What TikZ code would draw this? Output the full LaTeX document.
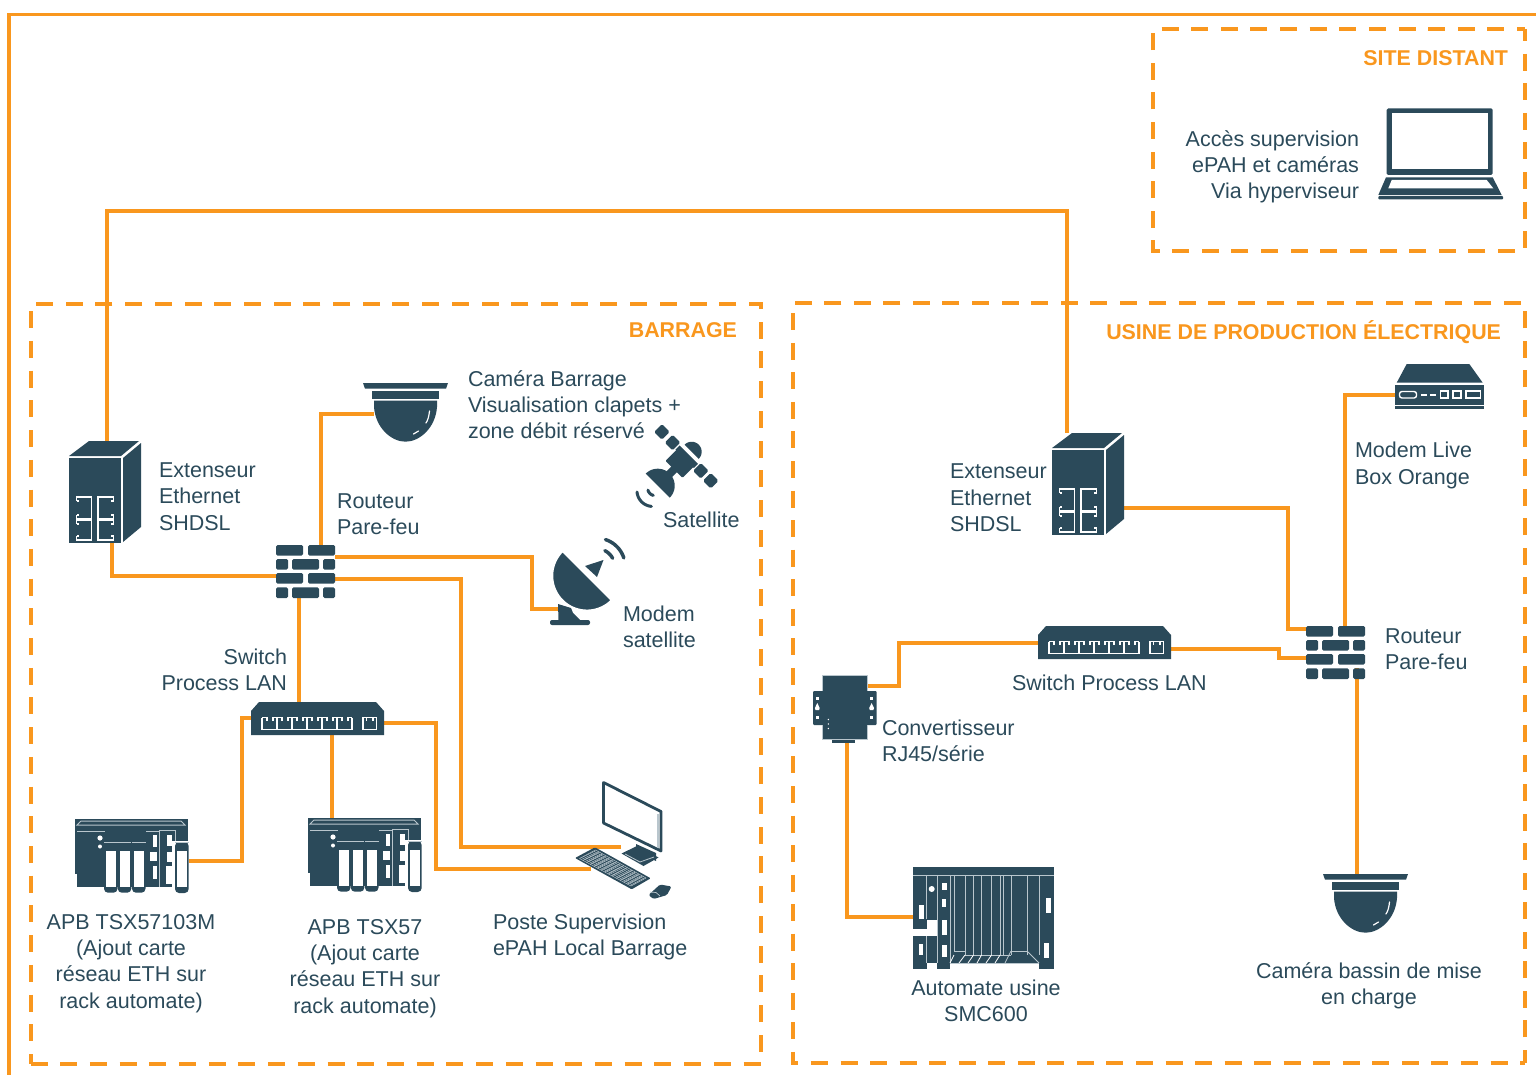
\documentclass[tikz,border=0pt]{standalone}
\usepackage{fontspec}
\setmainfont{Liberation Sans}
\usetikzlibrary{calc}
\definecolor{ink}{HTML}{2B4A5A}
\definecolor{wireo}{HTML}{F9971E}
\definecolor{pale}{HTML}{B9C6CD}
\tikzset{
  wire/.style={draw=wireo,line width=4pt,line join=miter},
  zone/.style={draw=wireo,line width=4pt,dash pattern=on 17pt off #1},
  frameline/.style={draw=wireo,line width=3.8pt},
  hit/.style={inner sep=0pt,outer sep=0pt,minimum width=#1},
  lbl/.style={text=ink,inner sep=0pt,outer sep=0pt,font=\fontsize{21.5}{26.3}\selectfont},
  ttl/.style={text=wireo,inner sep=0pt,outer sep=0pt,font=\fontsize{21.4}{26}\selectfont\bfseries,anchor=east},
  wl/.style={draw=white,line width=#1},
  wl/.default=1.2pt,
  pl/.style={draw=pale,line width=#1},
  pl/.default=1pt,
}
% brick wall, origin top-left
\newcommand\wallicon[2]{\begin{scope}[shift={(#1,#2)}]
  \foreach \y in {0,28}{
    \fill[ink,rounded corners=1.5pt] (0,\y) rectangle (27,\y+10.7);
    \fill[ink,rounded corners=1.5pt] (32,\y) rectangle (59,\y+10.7);
  }
  \foreach \y in {14,42.3}{
    \fill[ink,rounded corners=1.5pt] (0,\y) rectangle (12,\y+10.7);
    \fill[ink,rounded corners=1.5pt] (16,\y) rectangle (43,\y+10.7);
    \fill[ink,rounded corners=1.5pt] (47,\y) rectangle (59,\y+10.7);
  }
\end{scope}}
% extender, origin = top-left of the bounding box
\newcommand\exticon[2]{\begin{scope}[shift={(#1,#2)}]
  \fill[ink] (0,15) -- (20,0) -- (70,0) -- (52,15) -- cycle;
  \fill[ink] (0,17) rectangle (51.5,102);
  \fill[ink] (54,17) -- (72,2) -- (72,86) -- (54,101) -- cycle;
  \foreach \s/\t in {56/78,79/99}{
    \draw[wl=1.2pt] (7.5,\s+4) -- (7.5,\s) -- (22.5,\s) -- (22.5,\t) -- (7.5,\t) -- (7.5,\t-4);
    \draw[wl=1.2pt] (44.5,\s+4) -- (44.5,\s) -- (29,\s) -- (29,\t) -- (44.5,\t) -- (44.5,\t-4);
    \fill[white] (7.5,\s+3) rectangle (10,\s+5);
    \fill[white] (7.5,\t-5) rectangle (10,\t-3);
    \fill[white] (42,\s+3) rectangle (44.5,\s+5);
    \fill[white] (42,\t-5) rectangle (44.5,\t-3);
  }
\end{scope}}
% dome camera, origin = centre of the top edge
\newcommand\camicon[2]{\begin{scope}[shift={(#1,#2)}]
  \fill[ink] (-42.5,0) -- (42.5,0) -- (40.5,5.7) -- (-40.5,5.7) -- cycle;
  \fill[ink] (-33.5,8) rectangle (33.5,15.7);
  \fill[ink] (-31.5,17.7) -- (31.5,17.7) -- (31.5,24)
     .. controls (30,45) and (14,58.7) .. (0,58.7)
     .. controls (-14,58.7) and (-30,45) .. (-31.5,24) -- cycle;
  \draw[wl=1.2pt,line cap=round] (24,28) .. controls (23.5,33) and (22.5,37) .. (20.5,40);
  \draw[wl=1.2pt,line cap=round] (13,48) -- (8,51);
\end{scope}}
% switch, origin top-left
\newcommand\swicon[2]{\begin{scope}[shift={(#1,#2)}]
  \fill[ink] (8,0) -- (125,0) -- (133,9) -- (133,33) -- (0,33) -- (0,9) -- cycle;
  \draw[wl=1.1pt] (11,15.5) -- (11,27.5) -- (101.5,27.5) -- (101.5,15.5);
  \draw[wl=1.1pt] (112,15.5) rectangle (125.5,27.5);
  \foreach \k in {0,1,2,3,4,5}{
    \draw[wl=1.1pt] (11+\k*15,15.5) -- (16+\k*15,15.5) -- (16+\k*15,18.5);
    \draw[wl=1.1pt] (22+\k*15,18.5) -- (22+\k*15,15.5) -- (26+\k*15,15.5);
    \draw[wl=1.1pt] (26+\k*15,15.5) -- (26+\k*15,27.5);
  }
  \draw[wl=1.1pt] (115.5,15.5) -- (115.5,18.5);
  \draw[wl=1.1pt] (122,15.5) -- (122,18.5);
\end{scope}}
% PLC rack, origin top-left
\newcommand\rackicon[2]{\begin{scope}[shift={(#1,#2)}]
  \fill[ink] (0,0) rectangle (113,22);
  \fill[ink] (0,22) rectangle (2,55);
  \fill[ink] (2,10) rectangle (97,68);
  \draw[pl=1pt] (2,6) -- (6,2) -- (106,2) -- (110,6) -- cycle;
  \draw[pl=.8pt] (2,12) -- (30,12);
  \fill[white] (25,19) circle[radius=2.6];
  \fill[white] (25,27.5) circle[radius=2];
  \foreach \a in {29,42.8,57}{
    \fill[ink,rounded corners=4pt] (\a,24) rectangle (\a+13.5,73.7);
    \fill[white] (\a+2,32) rectangle (\a+12,68);
    \draw[pl=.8pt] (\a,23) -- (\a+13.5,23);
  }
  \draw[pl=.8pt] (71,12) -- (84,12);
  \fill[white] (78,16) rectangle (82,28);
  \fill[white] (75,33) rectangle (82,42);
  \fill[white] (78,47) rectangle (82,60);
  \draw[pl=.9pt] (84,68) -- (84,11) -- (100,11) -- (100,22);
  \fill[white] (92,16) rectangle (97,27);
  \fill[white] (92,33) rectangle (97,43);
  \fill[white] (91,47) rectangle (97,65);
  \fill[ink,rounded corners=4pt] (100,23) rectangle (113.7,74);
  \draw[pl=.8pt] (100,23) -- (113.7,23);
  \fill[white] (102,32) rectangle (112,68);
\end{scope}}
\begin{document}
\begin{tikzpicture}[x=1pt,y=-1pt]
\useasboundingbox (0,0) rectangle (1536,1075);

% anchor nodes of the devices
\node[hit=72pt,minimum height=102pt] (extA) at (105,492) {};
\node[hit=72pt,minimum height=102pt] (extB) at (1088,484) {};
\node[hit=59pt,minimum height=53pt] (fwA) at (305.5,571.5) {};
\node[hit=59pt,minimum height=53pt] (fwB) at (1335.5,652.5) {};
\node[hit=63pt,minimum height=41pt] (camA) at (405.5,421) {};
\node[hit=85pt,minimum height=59pt] (camB) at (1365.5,903.5) {};
\node[hit=40pt,minimum height=50pt] (dish) at (578,590) {};
\node[hit=133pt,minimum height=33pt] (swA) at (317.5,718.5) {};
\node[hit=133pt,minimum height=33pt] (swB) at (1104.5,642.5) {};
\node[hit=114pt,minimum height=74pt] (rackA) at (132,856) {};
\node[hit=114pt,minimum height=74pt] (rackB) at (365,855) {};
\node[hit=60pt,minimum height=30pt] (pc) at (621,858) {};
\node[hit=89pt,minimum height=24pt] (box) at (1439.5,395) {};
\node[hit=46pt,minimum height=64pt] (conv) at (845,707) {};
\node[hit=141pt,minimum height=102pt] (smc) at (983.5,918) {};
\coordinate (fwBdrop) at (1357,668);

% frames
\draw[frameline] (1540,14.5) -- (9.3,14.5) -- (9.3,1080);
\draw[zone=12.625pt,dash phase=5pt] (1525,29) -- (1525,251) -- (1153,251) -- (1153,29) -- cycle;
\draw[zone=12.71pt] (30.5,1064) -- (761,1064) -- (761,304) -- (30.5,304) -- cycle;
\draw[zone=12.545pt,dash phase=4pt] (1525,1063) -- (1525,303) -- (792.5,303) -- (792.5,1063) -- cycle;

% connectors
\draw[wire] ([xshift=2pt]extA.north) |- (1067,211) -- ([xshift=-21pt]extB.north);
\draw[wire] ([xshift=7pt]extA.south) |- (fwA.west|-0,576);
\draw[wire] (camA.west|-0,414) -| (fwA.north-|321,0);
\draw[wire] (fwA.east|-0,557) -| (532,609) -- (dish.west|-0,609);
\draw[wire] (fwA.east|-0,579) -| (461,847) -- (pc.north|-0,847);
\draw[wire] (fwA.south-|299,0) -- (swA.north-|299,0);
\draw[wire] (swA.west|-0,718) -| (241.5,861) -- (rackA.east|-0,861);
\draw[wire] (swA.south-|332,0) -- (rackB.north-|332,0);
\draw[wire] (swA.east|-0,723) -| (436,869) -- (pc.west|-0,869);
\draw[wire] (extB.east|-0,507.5) -| (1288,628.5) -- (fwB.west|-0,628.5);
\draw[wire] (fwB.north-|1345,0) |- (box.west);
\draw[wire] (swB.east|-0,649) -| (1279,658) -- (fwB.west|-0,658);
\draw[wire] (swB.west) -| (899,686) -- (conv.east|-0,686);
\draw[wire] (conv.south-|847,0) |- (smc.west|-0,917);
\draw[wire] (fwBdrop) -- (camB.north-|1357,0);

% device pictures
\exticon{69}{441}
\exticon{1052}{433}
\wallicon{276}{545}
\wallicon{1306}{626}
\camicon{405.5}{383}
\camicon{1365.5}{874}
\swicon{251}{702}
\swicon{1038}{626}
\rackicon{75}{819}
\rackicon{308}{818}

% satellite
\begin{scope}[shift={(686.7,456.7)},rotate=-45]
  \foreach \c in {-35,-20,20,34}{
    \fill[ink,rounded corners=1.5pt] (\c-5.5,-5.5) rectangle (\c+5.5,5.5);
  }
  \fill[ink] (-13,-3) rectangle (13,3);
  \fill[ink,rounded corners=1pt] (-12,-1) rectangle (12,18);
  \fill[ink] (-4,17) rectangle (4,25);
  \fill[ink] plot[domain=0:180,samples=25] ({10*cos(\x)},{-7-10*sin(\x)}) -- cycle;
  \fill[ink] plot[domain=0:180,samples=25] ({17*cos(\x)},{41-17*sin(\x)}) -- cycle;
  \draw[ink,line width=3pt,line cap=round] plot[domain=60:120,samples=9] ({7.5*cos(\x)},{44.5+7.5*sin(\x)});
  \draw[ink,line width=3pt,line cap=round] plot[domain=50:130,samples=13] ({15.8*cos(\x)},{48+15.8*sin(\x)});
\end{scope}

% satellite dish
\fill[ink] (558,604) -- (558.5,620) -- (580,620) -- (573,613) -- (571,608) -- cycle;
\fill[ink,rounded corners=2pt] (550,620) rectangle (590,625);
\draw[fill=ink,draw=white,line width=1.5pt] plot[domain=45:225,samples=40] ({587+34.5*cos(\x)},{575.8+34.5*sin(\x)}) -- cycle;
\fill[ink] (585,566) -- (603.5,560) -- (597,577) -- cycle;
\draw[ink,line width=3.5pt,line cap=round] plot[domain=-72:-18,samples=12] ({596.7+28.5*cos(\x)},{566.7+28.5*sin(\x)});
\draw[ink,line width=3.5pt,line cap=round] plot[domain=-63:-28,samples=8] ({596.7+18*cos(\x)},{566.7+18*sin(\x)});

% workstation
\fill[ink] (636,844) -- (656,853) -- (656,861) -- (636,852) -- cycle;
\fill[ink] (621.5,853.5) -- (637,846) -- (658.5,857.5) -- (643.5,866) -- cycle;
\draw[pl=.8pt] (625,854) -- (640,862) -- (654,857);
\draw[ink,fill=white,line width=2.8pt,line join=round] (603.5,782.5) -- (661,811.5) -- (661,851) -- (603.5,823) -- cycle;
\draw[pl=1.4pt] (658,814) -- (658,848);
\fill[ink,rounded corners=1pt] (575,858) -- (595,847.3) -- (650.7,878.3) -- (631.7,889.3) -- cycle;
\coordinate (kbA) at (579.5,858.5);
\coordinate (kbB) at (595.5,850);
\coordinate (kbC) at (646,878);
\coordinate (kbD) at (631,886);
\foreach \t in {0,.125,.25,.375,.5,.625,.75,.875,1}{
  \draw[pale,line width=.5pt] ($(kbA)!\t!(kbB)$) -- ($(kbD)!\t!(kbC)$);
}
\foreach \t in {0,.07,.14,.21,.28,.35,.42,.49,.56,.63,.72,.79,.86,.93,1}{
  \draw[pale,line width=.5pt] ($(kbA)!\t!(kbD)$) -- ($(kbB)!\t!(kbC)$);
}
\fill[ink,rounded corners=1.5pt] (648.5,895) -- (660,884.5) -- (671.5,886.5) -- (667,895) -- (653.5,899) -- cycle;
\draw[pl=.7pt] (650,892) -- (656,892.5) -- (660,896);

% laptop
\fill[ink,rounded corners=1.5pt] (1386.7,108.3) rectangle (1492.7,175);
\fill[white] (1391.7,112.7) rectangle (1488.3,169);
\fill[ink] (1386,177.3) -- (1492.7,177.3) -- (1501.7,195) -- (1378.3,195) -- cycle;
\fill[white] (1391.7,180) -- (1486.7,180) -- (1493.3,188.3) -- (1388.3,188.3) -- cycle;
\fill[ink,rounded corners=1pt] (1378.3,196) rectangle (1503,199.5);

% modem box
\fill[ink] (1406.7,364) -- (1469.3,364) -- (1482.7,382.7) -- (1396.7,382.7) -- cycle;
\fill[ink] (1395,385) rectangle (1484,405);
\fill[ink] (1395,406.2) rectangle (1484,408.5);
\draw[wl=1.4pt,rounded corners=2.5pt] (1399.5,391.5) rectangle (1416.5,398);
\fill[white] (1420.5,393.5) rectangle (1427,396);
\fill[white] (1430,393.5) rectangle (1436,396);
\draw[wl=1.4pt] (1440.5,391) rectangle (1448,398);
\draw[wl=1.4pt] (1453,391) rectangle (1461,398);
\draw[wl=1.4pt] (1466,391) rectangle (1480.5,398);

% serial converter
\fill[ink] (822,675) rectangle (867.7,739);
\fill[ink,rounded corners=1pt] (813,691) rectangle (876.7,725);
\fill[ink] (832,739) rectangle (855,743);
\draw[pl=.6pt] (822,691) -- (822,675) -- (867.7,675) -- (867.7,691);
\draw[pl=.6pt] (822,725) -- (822,739) -- (867.7,739) -- (867.7,725);
\foreach \a in {817.3,871.6}{
  \fill[white] (\a-1.5,697) rectangle (\a+1.5,699.5);
  \fill[white] (\a-1.5,716) rectangle (\a+1.5,718.5);
  \fill[white] (\a,703) -- (\a+2.4,708) -- (\a+1.8,710) -- (\a-1.8,710) -- (\a-2.4,708) -- cycle;
}
\foreach \y in {719.5,724,728.5}{ \fill[white] (828.3,\y) circle[radius=.8]; }

% SMC600 rack
\begin{scope}[shift={(913,867)}]
  \fill[ink] (0,0) rectangle (141,102);
  \fill[white] (37,96) rectangle (126,102);
  \fill[white] (13.7,96) rectangle (24.3,102);
  \fill[white] (6,38.3) rectangle (11,52);
  \fill[white] (0,62) rectangle (24.3,68.7);
  \fill[white] (13.7,52.7) rectangle (24.3,68.7);
  \fill[white] (6,77) rectangle (9.7,88.3);
  \fill[white] (18.7,22) circle[radius=3];
  \fill[white] (28.7,16) rectangle (33.7,22.7);
  \fill[white] (28.7,32) rectangle (33,40);
  \fill[white] (28.7,53.3) rectangle (33.7,67.7);
  \fill[white] (28.7,77.7) rectangle (33.7,90.3);
  \fill[white] (133,31) rectangle (138,46);
  \fill[white] (130.7,76) rectangle (136,91);
  \draw[pl=.9pt] (0,8) -- (141,8);
  \draw[pl=.9pt] (13.7,8) -- (13.7,52);
  \draw[pl=.9pt] (13.7,69) -- (13.7,96);
  \draw[pl=1pt] (24.3,8) -- (24.3,96);
  \draw[pl=.9pt] (37,8) -- (37,96);
  \draw[pl=.9pt] (41,8) -- (41,84) -- (52,84);
  \foreach \a in {52,60.5,68.5,78.5,87,90.5,98,114,126}{
    \draw[pl=.8pt] (\a,8) -- (\a,88);
  }
  \draw[pl=.8pt] (52,88) -- (98,88);
  \draw[pl=.8pt] (98,84) -- (114,84);
  \draw[pl=.8pt] (114,84) -- (126,96);
  \draw[pl=.8pt] (98,84) -- (92,96);
  \foreach \a/\b in {41/37,52/46,60.5/55,68.5/64,78.5/73,87/82}{
    \draw[white,line width=.8pt] (\a,88) -- (\b,96);
  }
  \draw[pl=.8pt] (37,96) -- (126,96);
\end{scope}

% labels
\node[ttl] (tSite) at (1508,58) {SITE DISTANT};
\node[ttl] (tBar) at (737,330) {BARRAGE};
\node[ttl] (tUsine) at (1501,332) {USINE DE PRODUCTION ÉLECTRIQUE};
\node[lbl,anchor=east,align=right] (l1) at (1359,167) {Accès supervision\\ePAH et caméras\\Via hyperviseur};
\node[lbl,anchor=west,align=left] (l2) at (468,404.5) {Caméra Barrage\\Visualisation clapets +\\zone débit réservé};
\node[lbl,anchor=west,align=left] (l3) at (159,496.5) {Extenseur\\Ethernet\\SHDSL};
\node[lbl,anchor=west,align=left] (l4) at (337,514) {Routeur\\Pare-feu};
\node[lbl,anchor=west] (l5) at (663,520) {Satellite};
\node[lbl,anchor=west,align=left] (l6) at (623,627) {Modem\\satellite};
\node[lbl,anchor=east,align=right] (l7) at (287,670) {Switch\\Process LAN};
\node[lbl,align=center] (l8) at (131,963.5) {APB TSX57103M\\(Ajout carte\\réseau ETH sur\\rack automate)};
\node[lbl,align=center] (l9) at (365,968.5) {APB TSX57\\(Ajout carte\\réseau ETH sur\\rack automate)};
\node[lbl,anchor=west,align=left] (l10) at (493,937) {Poste Supervision\\ePAH Local Barrage};
\node[lbl,anchor=west,align=left] (l11) at (950,498) {Extenseur\\Ethernet\\SHDSL};
\node[lbl,anchor=west,align=left] (l12) at (1355,465.5) {Modem Live\\Box Orange};
\node[lbl,anchor=west,align=left] (l13) at (1385,649) {Routeur\\Pare-feu};
\node[lbl,anchor=west] (l14) at (1012,683) {Switch Process LAN};
\node[lbl,anchor=west,align=left] (l15) at (882,741) {Convertisseur\\RJ45/série};
\node[lbl,align=center] (l16) at (986,1001) {Automate usine\\SMC600};
\node[lbl,align=center] (l17) at (1369,986) {Caméra bassin de mise\\en charge};
\end{tikzpicture}
\end{document}
